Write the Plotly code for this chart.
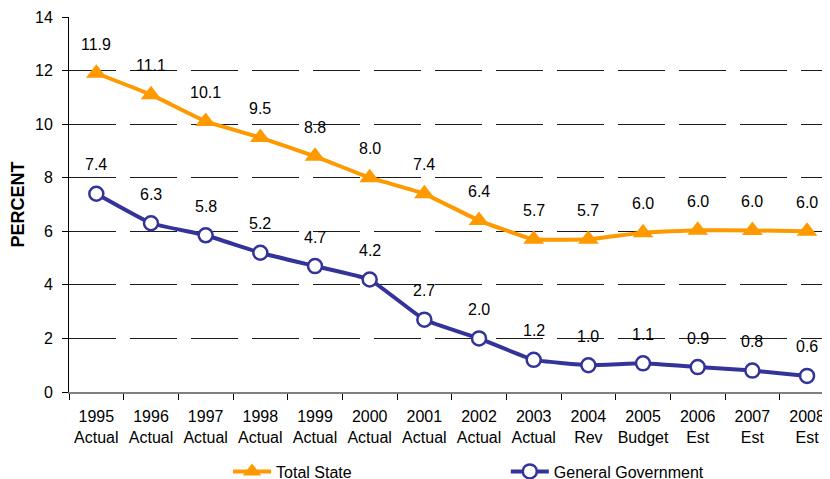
import plotly.graph_objects as go

years = ["1995", "1996", "1997", "1998", "1999", "2000", "2001", "2002", "2003", "2004", "2005", "2006", "2007", "2008"]
kinds = ["Actual", "Actual", "Actual", "Actual", "Actual", "Actual", "Actual", "Actual", "Actual", "Rev", "Budget", "Est", "Est", "Est"]
categories = [f"{y}<br>{k}" for y, k in zip(years, kinds)]

total_state = [11.9, 11.1, 10.1, 9.5, 8.8, 8.0, 7.4, 6.4, 5.7, 5.7, 5.95, 6.04, 6.03, 6.0]
general_gov = [7.4, 6.3, 5.85, 5.2, 4.7, 4.2, 2.7, 2.0, 1.2, 1.0, 1.07, 0.93, 0.8, 0.6]

FONT = "Liberation Sans, Arial, sans-serif"

fig = go.Figure()
fig.add_trace(go.Scatter(
    x=categories, y=total_state, name="Total State",
    mode="lines+markers",
    line=dict(color="#FF9900", width=4, shape="spline", smoothing=0.3),
    marker=dict(symbol="triangle-up", size=18, color="#FF9900"),
    legend="legend",
))
fig.add_trace(go.Scatter(
    x=categories, y=general_gov, name="General Government",
    mode="lines+markers",
    line=dict(color="#333399", width=4, shape="spline", smoothing=0.3),
    marker=dict(symbol="circle", size=14, color="#FFFFFF", line=dict(color="#333399", width=2.5)),
    legend="legend2",
))

annotations = []
for series in (total_state, general_gov):
    for cat, v in zip(categories, series):
        annotations.append(dict(
            x=cat, y=v, xref="x", yref="y", text=f"{v:.1f}", showarrow=False,
            yshift=29, font=dict(family=FONT, size=16, color="#000000"),
        ))

fig.update_layout(
    template="none",
    width=830, height=479,
    margin=dict(l=61, r=8, t=9, b=95, pad=0, autoexpand=False),
    plot_bgcolor="white", paper_bgcolor="white",
    font=dict(family=FONT, size=16, color="#000000"),
    showlegend=True,
    annotations=annotations,
    legend=dict(orientation="h", x=0.209, y=-0.212, xanchor="left", yanchor="middle",
                font=dict(family=FONT, size=16), bgcolor="rgba(0,0,0,0)", itemwidth=38),
    legend2=dict(orientation="h", x=0.574, y=-0.212, xanchor="left", yanchor="middle",
                 font=dict(family=FONT, size=16), bgcolor="rgba(0,0,0,0)", itemwidth=38),
)
fig.update_xaxes(
    type="category", categoryorder="array", categoryarray=categories,
    range=[-0.5, 13.42], automargin=False,
    showline=True, linecolor="#808080", linewidth=2,
    ticks="outside", tickson="boundaries", ticklen=6, tickcolor="#000000", tickwidth=1,
    ticklabelstandoff=9, tickangle=0,
    tickfont=dict(family=FONT, size=16),
    showgrid=False, zeroline=False,
)
fig.update_yaxes(
    range=[0, 14], dtick=2, automargin=False,
    showline=True, linecolor="#000000", linewidth=1,
    ticks="outside", ticklen=6, tickcolor="#000000", tickwidth=1,
    ticklabelstandoff=6,
    tickfont=dict(family=FONT, size=16),
    showgrid=True, gridcolor="#1a1a1a", gridwidth=1, griddash="47px,14px",
    zeroline=False,
    title=dict(text="<b>PERCENT</b>", font=dict(family=FONT, size=18), standoff=9),
)

fig.write_html("out.html")
